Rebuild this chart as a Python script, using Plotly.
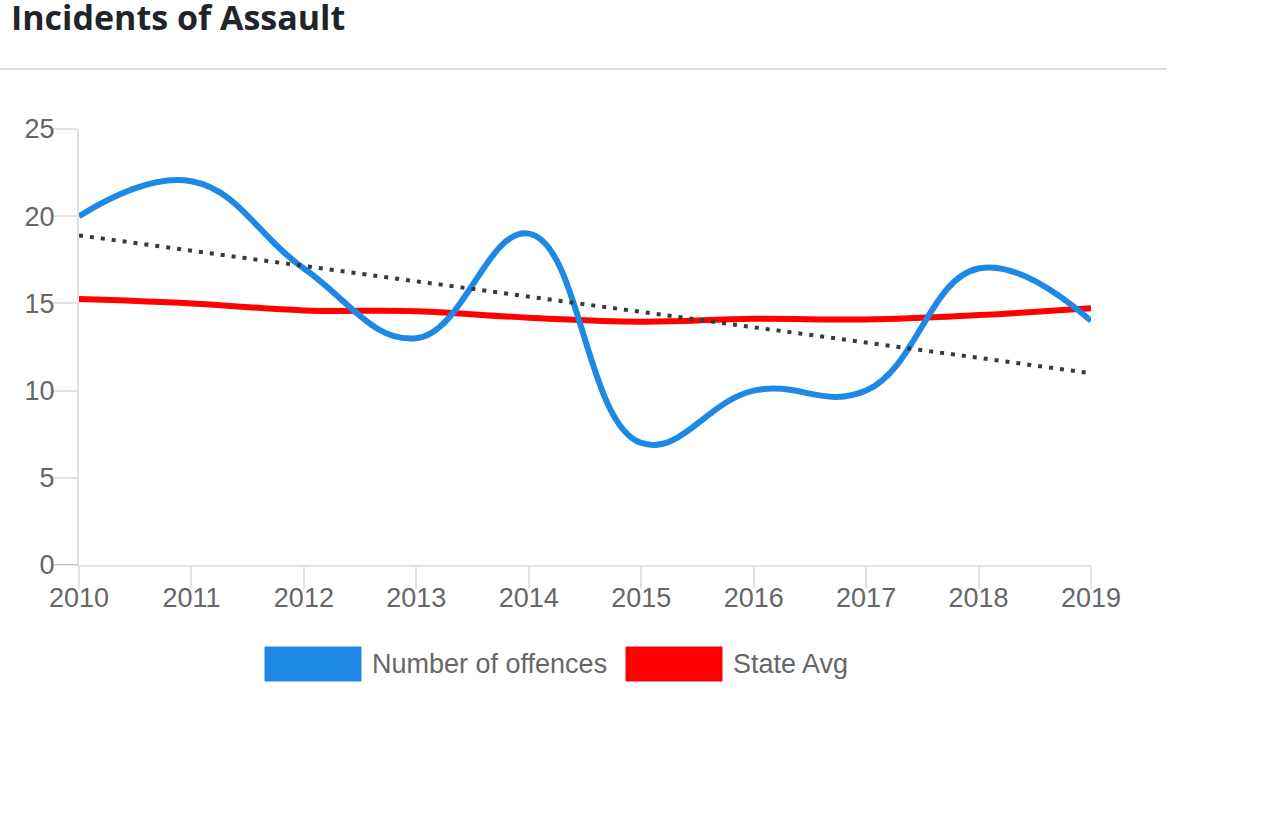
import plotly.graph_objects as go

years = [2010, 2011, 2012, 2013, 2014, 2015, 2016, 2017, 2018, 2019]
offences = [20, 22, 17, 13, 19, 7, 10, 10, 17, 14]
state_avg = [15.25, 15.0, 14.6, 14.55, 14.18, 13.95, 14.12, 14.08, 14.33, 14.72]
trend_years = [2010, 2019]
trend_vals = [18.9, 11.0]
y_ticks = [0, 5, 10, 15, 20, 25]

title_text = "Incidents of Assault"
legend_labels = ["Number of offences", "State Avg"]
blue = "#1e88e5"
red = "#ff0000"

W, H = 1278, 833
L, R, T, B = 79, 1091, 129, 565

def px(x):
    return (x - L) / (R - L)

def py(y):
    return (B - y) / (B - T)

fig = go.Figure()
fig.add_trace(go.Scatter(x=years, y=state_avg, mode="lines", name=legend_labels[1],
                         line=dict(color=red, width=6, shape="spline", smoothing=1.2),
                         hoverinfo="x+y"))
fig.add_trace(go.Scatter(x=years, y=offences, mode="lines", name=legend_labels[0],
                         line=dict(color=blue, width=6, shape="spline", smoothing=1.2),
                         hoverinfo="x+y"))
fig.add_trace(go.Scatter(x=trend_years, y=trend_vals, mode="lines", name="Trend",
                         line=dict(color="#343a40", width=4, dash="4px,7px"),
                         hoverinfo="skip"))

axis_common = dict(
    showgrid=False, zeroline=False, showline=True, linecolor="#e3e3e3", linewidth=2,
    ticks="outside", tickcolor="#e3e3e3", tickwidth=2,
    tickfont=dict(family="Liberation Sans, Arial, sans-serif", size=27, color="#666666"),
)

fig.update_layout(
    width=W, height=H,
    margin=dict(l=L, r=W - R, t=T, b=H - B, pad=0),
    paper_bgcolor="white", plot_bgcolor="white",
    showlegend=False,
    xaxis=dict(range=[2010, 2019], tickvals=years, ticklen=22, ticklabelstandoff=-14, **axis_common),
    yaxis=dict(range=[0, 25], tickvals=y_ticks, ticklen=24, ticklabelstandoff=-7, **axis_common),
)

# darker tick at zero
fig.add_shape(type="line", xref="paper", yref="y", x0=px(55), x1=px(79), y0=0, y1=0,
              line=dict(color="#c4c4c4", width=2), layer="above")

# title
fig.add_annotation(text="<b>" + title_text + "</b>", xref="paper", yref="paper",
                   x=px(9), y=py(-8), xanchor="left", yanchor="top", showarrow=False,
                   font=dict(family="Open Sans, Noto Sans, sans-serif", size=34, color="#212529"))

# separator under the title
fig.add_shape(type="line", xref="paper", yref="paper", x0=px(0), x1=px(1167),
              y0=py(69), y1=py(69), line=dict(color="#dddddd", width=2))

# custom legend
legend_items = [(legend_labels[0], blue, 265), (legend_labels[1], red, 626)]
for label, color, x0 in legend_items:
    fig.add_shape(type="rect", xref="paper", yref="paper",
                  x0=px(x0), x1=px(x0 + 96), y0=py(647), y1=py(681),
                  fillcolor=color, line=dict(color=color, width=1))
    fig.add_annotation(text=label, xref="paper", yref="paper", x=px(x0 + 105), y=py(664),
                       xanchor="left", yanchor="middle", showarrow=False,
                       font=dict(family="Liberation Sans, Arial, sans-serif", size=27, color="#666666"))

fig.write_html("out.html", config={"displayModeBar": False},
               post_script="document.body.style.margin='0';")
